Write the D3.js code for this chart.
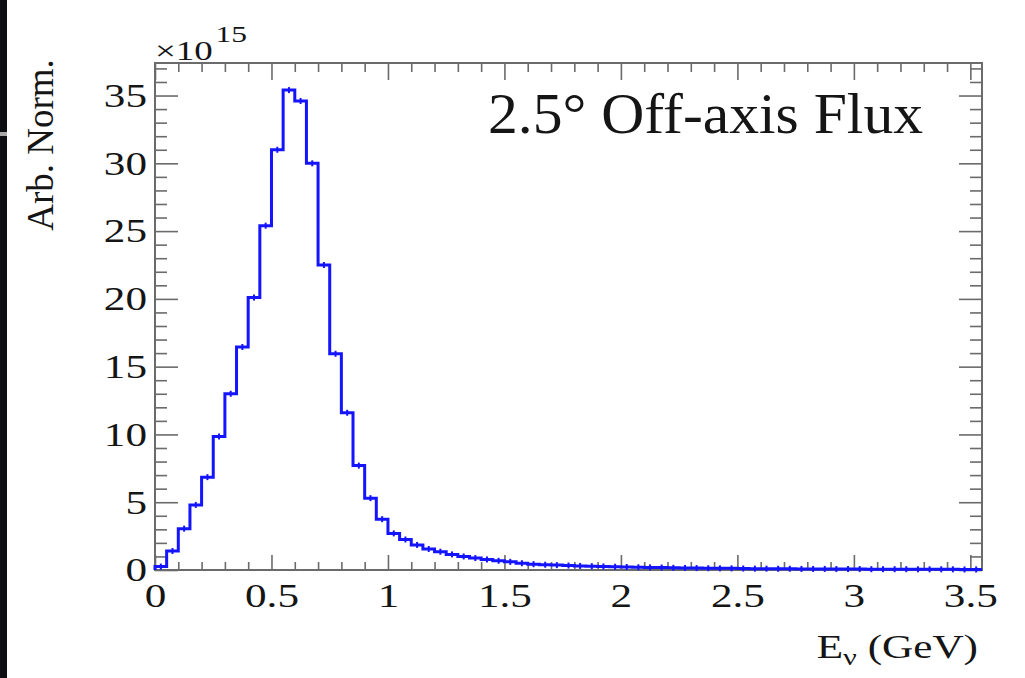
<!DOCTYPE html>
<html>
<head>
<meta charset="utf-8">
<script src="https://cdn.jsdelivr.net/npm/d3@7"></script>
<style>
body { margin: 0; background: #ffffff; }
text { font-family: "Liberation Serif", "DejaVu Serif", serif; fill: #151515; }
</style>
</head>
<body>
<div id="flux"></div>
<script>
//svg dimensions
var xSize = 1025;
var ySize = 678;

//histogram: bin width (GeV) and contents (x 10^15)
var binWidth = 0.05;
var fluxValues = [
	0.25, 1.4, 3.05, 4.8, 6.85, 9.85, 13.0, 16.45, 20.1, 25.4,
	31.0, 35.4, 34.6, 30.0, 22.5, 15.95, 11.6, 7.7, 5.3, 3.75,
	2.7, 2.25, 1.85, 1.55, 1.35, 1.15, 1.0, 0.88, 0.78, 0.68,
	0.6, 0.5, 0.43, 0.39, 0.36, 0.33, 0.3, 0.28, 0.26, 0.24,
	0.22, 0.2, 0.19, 0.18, 0.16, 0.15, 0.14, 0.13, 0.12, 0.12,
	0.11, 0.1, 0.1, 0.09, 0.09, 0.08, 0.08, 0.08, 0.07, 0.07,
	0.07, 0.06, 0.06, 0.06, 0.06, 0.05, 0.05, 0.05, 0.05, 0.04,
	0.04
];

//axis ticks
var xMajor = [0, 0.5, 1, 1.5, 2, 2.5, 3, 3.5];
var xMinor = [0.1, 0.2, 0.3, 0.4, 0.6, 0.7, 0.8, 0.9, 1.1, 1.2, 1.3, 1.4,
	1.6, 1.7, 1.8, 1.9, 2.1, 2.2, 2.3, 2.4, 2.6, 2.7, 2.8, 2.9, 3.1, 3.2, 3.3, 3.4];
var yMajor = [0, 5, 10, 15, 20, 25, 30, 35];
var yMinor = [1, 2, 3, 4, 6, 7, 8, 9, 11, 12, 13, 14, 16, 17, 18, 19,
	21, 22, 23, 24, 26, 27, 28, 29, 31, 32, 33, 34, 36, 37];

//frame (window.top is taken, so prefixed names)
var fLeft = 155, fRight = 982, fTop = 63, fBottom = 570;
var stretch = 1.27; //labels in the picture are wider than the font

var svg = d3.select("#flux").append("svg")
	.attr("width", xSize)
	.attr("height", ySize);

svg.append("rect")
	.attr("width", xSize).attr("height", ySize)
	.attr("fill", "#ffffff");

//dark strip on the left edge of the screenshot
svg.append("rect")
	.attr("x", 0).attr("y", 0)
	.attr("width", 7).attr("height", ySize)
	.attr("fill", "#0e0f13");
svg.append("rect")
	.attr("x", 0).attr("y", 132)
	.attr("width", 7).attr("height", 4)
	.attr("fill", "#a9a9a9");

var x = d3.scaleLinear().domain([0, 3.55]).range([fLeft, fRight]);
var y = d3.scaleLinear().domain([0, 37.4]).range([fBottom, fTop]);

var axisColor = "#6b6b6b";

function styleAxis(g){
	g.select(".domain").remove();
	g.selectAll("line").attr("stroke", axisColor).attr("stroke-width", 1.6);
}

//bottom axis, major with labels
var gx = svg.append("g")
	.attr("transform", "translate(0," + fBottom + ")")
	.call(d3.axisBottom(x).tickValues(xMajor).tickSize(-15).tickPadding(13)
		.tickFormat(function(d){ return d3.format("")(d); }));
styleAxis(gx);
gx.selectAll("text")
	.attr("font-size", 34)
	.attr("font-family", "Liberation Serif")
	.attr("fill", "#151515")
	.attr("transform", "scale(" + stretch + ",1)");

svg.append("g")
	.attr("transform", "translate(0," + fBottom + ")")
	.call(d3.axisBottom(x).tickValues(xMinor).tickSize(-8).tickFormat(""))
	.call(styleAxis);

//top axis, no labels
svg.append("g")
	.attr("transform", "translate(0," + fTop + ")")
	.call(d3.axisTop(x).tickValues(xMajor).tickSize(-17).tickFormat(""))
	.call(styleAxis);
svg.append("g")
	.attr("transform", "translate(0," + fTop + ")")
	.call(d3.axisTop(x).tickValues(xMinor).tickSize(-9).tickFormat(""))
	.call(styleAxis);

//left axis
var gy = svg.append("g")
	.attr("transform", "translate(" + fLeft + ",0)")
	.call(d3.axisLeft(y).tickValues(yMajor).tickSize(-23).tickPadding(8));
styleAxis(gy);
gy.selectAll("text")
	.attr("font-size", 34)
	.attr("font-family", "Liberation Serif")
	.attr("fill", "#151515")
	.attr("x", -8 / stretch)
	.attr("transform", "scale(" + stretch + ",1)");

svg.append("g")
	.attr("transform", "translate(" + fLeft + ",0)")
	.call(d3.axisLeft(y).tickValues(yMinor).tickSize(-12).tickFormat(""))
	.call(styleAxis);

//right axis, no labels
svg.append("g")
	.attr("transform", "translate(" + fRight + ",0)")
	.call(d3.axisRight(y).tickValues(yMajor).tickSize(-23).tickFormat(""))
	.call(styleAxis);
svg.append("g")
	.attr("transform", "translate(" + fRight + ",0)")
	.call(d3.axisRight(y).tickValues(yMinor).tickSize(-12).tickFormat(""))
	.call(styleAxis);

//frame
svg.append("rect")
	.attr("x", fLeft).attr("y", fTop)
	.attr("width", fRight - fLeft).attr("height", fBottom - fTop)
	.attr("fill", "none")
	.attr("stroke", axisColor)
	.attr("stroke-width", 2);

//histogram outline (steps)
var pts = [[0, 0]];
for (var i = 0; i < fluxValues.length; i++){
	pts.push([i * binWidth, fluxValues[i]]);
	pts.push([(i + 1) * binWidth, fluxValues[i]]);
}

var line = d3.line()
	.x(function(p){ return x(p[0]); })
	.y(function(p){ return y(p[1]); });

svg.append("path")
	.datum(pts)
	.attr("d", line)
	.attr("fill", "none")
	.attr("stroke", "#1414ff")
	.attr("stroke-width", 3)
	.attr("stroke-linejoin", "miter");

//small error-bar notches at bin centres
svg.selectAll("line.err")
	.data(fluxValues)
	.enter()
	.append("line")
	.attr("class", "err")
	.attr("x1", function(v, i){ return x((i + 0.5) * binWidth); })
	.attr("x2", function(v, i){ return x((i + 0.5) * binWidth); })
	.attr("y1", function(v){ return y(v) - 3; })
	.attr("y2", function(v){ return y(v) + 3; })
	.attr("stroke", "#1414ff")
	.attr("stroke-width", 2);

//texts
var mult = svg.append("text")
	.attr("x", fLeft / 1.37)
	.attr("y", 60)
	.attr("font-size", 27)
	.attr("transform", "scale(1.37,1)");
mult.append("tspan").text("\u00d710");
mult.append("tspan").attr("font-size", 23).attr("dx", 2).attr("dy", -18).text("15");

svg.append("text")
	.attr("x", 488)
	.attr("y", 133)
	.attr("font-size", 56)
	.attr("textLength", 435)
	.attr("lengthAdjust", "spacingAndGlyphs")
	.text("2.5\u00b0 Off-axis Flux");

var xl = svg.append("text")
	.attr("x", 978 / stretch)
	.attr("y", 658)
	.attr("font-size", 34)
	.attr("text-anchor", "end")
	.attr("transform", "scale(" + stretch + ",1)");
xl.append("tspan").text("E");
xl.append("tspan").attr("font-size", 24).attr("dy", 7).text("\u03bd");
xl.append("tspan").attr("dy", -7).text(" (GeV)");

svg.append("text")
	.attr("transform", "translate(53,145) rotate(-90)")
	.attr("text-anchor", "middle")
	.attr("font-size", 37)
	.text("Arb. Norm.");
</script>
</body>
</html>
